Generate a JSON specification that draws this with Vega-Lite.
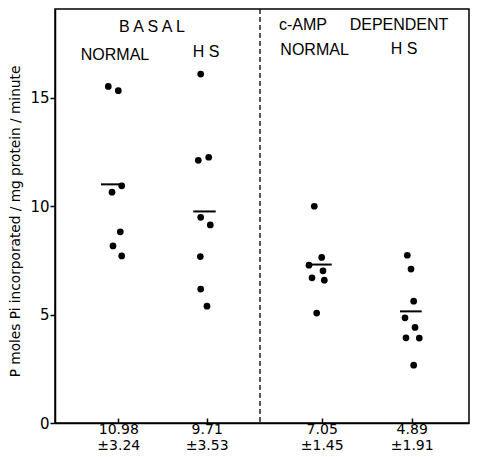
{
  "$schema": "https://vega.github.io/schema/vega-lite/v6.json",
  "width": 414,
  "height": 414,
  "autosize": "none",
  "padding": {"left": 55, "top": 9, "right": 17, "bottom": 34},
  "background": "white",
  "config": {
    "view": {"stroke": "black", "strokeWidth": 1.5},
    "font": "DejaVu Sans",
    "axis": {"grid": false, "domainColor": "black", "domainWidth": 1.5, "tickColor": "black", "tickWidth": 1.5, "labelColor": "black", "titleColor": "black", "labelFont": "DejaVu Sans", "titleFont": "DejaVu Sans"}
  },
  "datasets": {
    "points": [
      {"group": "Basal normal", "x": 12.87, "y": 15.53},
      {"group": "Basal normal", "x": 15.29, "y": 15.33},
      {"group": "Basal normal", "x": 16.11, "y": 10.94},
      {"group": "Basal normal", "x": 13.77, "y": 10.65},
      {"group": "Basal normal", "x": 15.77, "y": 8.82},
      {"group": "Basal normal", "x": 14.01, "y": 8.17},
      {"group": "Basal normal", "x": 16.11, "y": 7.71},
      {"group": "Basal HS", "x": 35.19, "y": 16.10},
      {"group": "Basal HS", "x": 37.13, "y": 12.26},
      {"group": "Basal HS", "x": 34.61, "y": 12.12},
      {"group": "Basal HS", "x": 35.19, "y": 9.49},
      {"group": "Basal HS", "x": 37.51, "y": 9.14},
      {"group": "Basal HS", "x": 35.10, "y": 7.68},
      {"group": "Basal HS", "x": 35.19, "y": 6.18},
      {"group": "Basal HS", "x": 36.71, "y": 5.39},
      {"group": "cAMP normal", "x": 62.63, "y": 10.00},
      {"group": "cAMP normal", "x": 64.42, "y": 7.64},
      {"group": "cAMP normal", "x": 61.35, "y": 7.28},
      {"group": "cAMP normal", "x": 64.73, "y": 7.02},
      {"group": "cAMP normal", "x": 62.08, "y": 6.70},
      {"group": "cAMP normal", "x": 65.05, "y": 6.59},
      {"group": "cAMP normal", "x": 63.21, "y": 5.07},
      {"group": "cAMP HS", "x": 85.10, "y": 7.74},
      {"group": "cAMP HS", "x": 85.99, "y": 7.10},
      {"group": "cAMP HS", "x": 86.64, "y": 5.62},
      {"group": "cAMP HS", "x": 84.54, "y": 4.85},
      {"group": "cAMP HS", "x": 86.96, "y": 4.41},
      {"group": "cAMP HS", "x": 84.78, "y": 3.93},
      {"group": "cAMP HS", "x": 87.99, "y": 3.92},
      {"group": "cAMP HS", "x": 86.64, "y": 2.67}
    ],
    "means": [
      {"group": "Basal normal", "xl": 11.11, "xr": 16.67, "mean": 11.01},
      {"group": "Basal HS", "xl": 33.41, "xr": 38.82, "mean": 9.76},
      {"group": "cAMP normal", "xl": 61.35, "xr": 66.84, "mean": 7.31},
      {"group": "cAMP HS", "xl": 83.33, "xr": 88.57, "mean": 5.15}
    ],
    "divider": [{"x": 49.52}],
    "labels": [
      {"text": "B A S A L", "x": 23.4, "y": 18.25},
      {"text": "NORMAL", "x": 14.5, "y": 17.0},
      {"text": "H S", "x": 36.5, "y": 17.1},
      {"text": "c-AMP", "x": 59.9, "y": 18.36},
      {"text": "DEPENDENT", "x": 83.1, "y": 18.36},
      {"text": "NORMAL", "x": 62.7, "y": 17.2},
      {"text": "H S", "x": 84.3, "y": 17.25}
    ]
  },
  "layer": [
    {
      "data": {"name": "points"},
      "mark": {"type": "circle", "size": 45, "opacity": 1, "color": "black"},
      "encoding": {
        "x": {"field": "x", "type": "quantitative", "scale": {"domain": [0, 100], "nice": false},
          "axis": {"title": null, "values": [15.29, 36.64, 64.42, 86.16], "tickSize": -5, "labelPadding": 4, "labelFontSize": 14, "labelLineHeight": 16, "labelExpr": "datum.value < 25 ? ['10.98', '±3.24'] : datum.value < 50 ? ['9.71', '±3.53'] : datum.value < 75 ? ['7.05', '±1.45'] : ['4.89', '±1.91']"}},
        "y": {"field": "y", "type": "quantitative", "scale": {"domain": [0, 19.1], "nice": false},
          "axis": {"title": "P moles Pi incorporated / mg protein / minute", "values": [0, 5, 10, 15], "tickSize": 5, "labelPadding": 1, "labelFontSize": 15, "titleFontSize": 13.7, "titleFontWeight": "normal", "titleX": -40, "titleY": 212, "titleAngle": 270, "titleAlign": "center", "titleBaseline": "middle"}}
      }
    },
    {
      "data": {"name": "means"},
      "mark": {"type": "rule", "color": "black", "strokeWidth": 2},
      "encoding": {
        "x": {"field": "xl", "type": "quantitative"},
        "x2": {"field": "xr"},
        "y": {"field": "mean", "type": "quantitative"}
      }
    },
    {
      "data": {"name": "divider"},
      "mark": {"type": "rule", "color": "black", "strokeWidth": 1.3, "strokeDash": [5, 3]},
      "encoding": {
        "x": {"field": "x", "type": "quantitative"}
      }
    },
    {
      "data": {"name": "labels"},
      "mark": {"type": "text", "color": "black", "fontSize": 16, "align": "center", "baseline": "middle", "font": "Liberation Sans"},
      "encoding": {
        "x": {"field": "x", "type": "quantitative"},
        "y": {"field": "y", "type": "quantitative"},
        "text": {"field": "text"}
      }
    }
  ]
}
